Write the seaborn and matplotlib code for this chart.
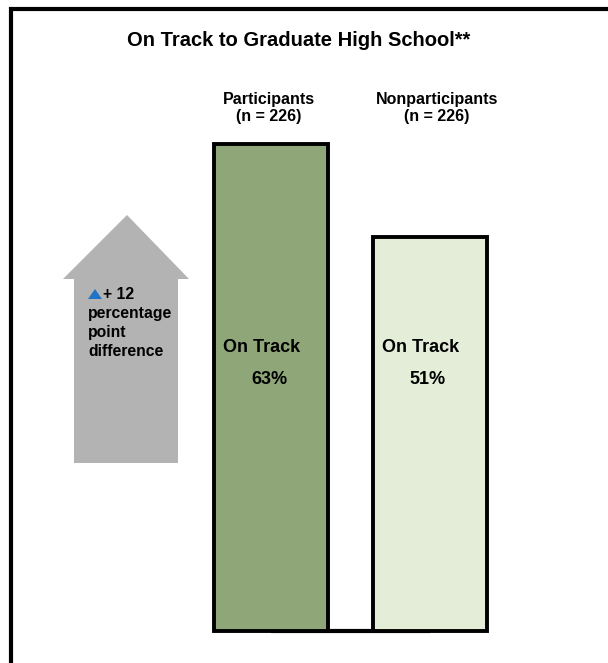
import numpy as np
import pandas as pd
import matplotlib
matplotlib.use("Agg")
import matplotlib.pyplot as plt
import seaborn as sns
from matplotlib.patches import Polygon
from matplotlib.lines import Line2D

# ---- data ----
groups = ["Participants", "Nonparticipants"]
group_labels = ["Participants\n(n = 226)", "Nonparticipants\n(n = 226)"]
values = [63, 51]
bar_colors = ["#8fad71", "#e3f0d5"]
title = "On Track to Graduate High School**"
inner_label = "On Track"
diff_lines = ["+ 12", "percentage", "point", "difference"]

sns.set_style("white")
plt.rcParams["font.family"] = ["Liberation Sans", "DejaVu Sans"]

W, H = 608, 663
fig = plt.figure(figsize=(W / 100, H / 100), dpi=100)
fig.patch.set_facecolor("white")

def fx(px):
    return px / W

def fy(py):
    return 1 - py / H

ax = fig.add_axes([0, 0, 1, 1])
df = pd.DataFrame({"group": groups, "value": values})

# baseline joining the bars
ax.plot([0, 1], [0, 0], color="black", lw=3, zorder=0, solid_capstyle="butt")

sns.barplot(data=df, x="group", y="value", hue="group", palette=bar_colors,
            width=0.72, edgecolor="black", linewidth=2.8, legend=False,
            ax=ax, zorder=2)

# pixel -> data mapping
s = 487 / 63.0
ax.set_xlim(-271 / 159, (W - 271) / 159)
ax.set_ylim(-(H - 631) / s, 631 / s)
ax.axis("off")

# labels inside bars
for i, v in enumerate(values):
    ax.text(i - 9 / 159, (631 - 351.5) / s, inner_label, ha="center",
            va="baseline", fontsize=13, fontweight="bold", color="black", zorder=3)
    ax.text(i - 2 / 159, (631 - 384) / s, f"{v}%", ha="center",
            va="baseline", fontsize=13, fontweight="bold", color="black", zorder=3)

# group labels above
label_x = [268.5, 437]
for lx, lab in zip(label_x, group_labels):
    l1, l2 = lab.split("\n")
    fig.text(fx(lx), fy(104), l1, ha="center", va="baseline", fontsize=11.5,
             fontweight="bold", color="black")
    fig.text(fx(lx), fy(120.5), l2, ha="center", va="baseline", fontsize=11.5,
             fontweight="bold", color="black")

# title
fig.text(fx(299), fy(46.5), title, ha="center", va="baseline", fontsize=14.5,
         fontweight="bold", color="black")

# grey arrow
arrow_px = [(127, 215), (189, 279), (178, 279), (178, 463),
            (74, 463), (74, 279), (63, 279)]
fig.patches.append(Polygon([(fx(x), fy(y)) for x, y in arrow_px], closed=True,
                           transform=fig.transFigure, facecolor="#b3b3b3",
                           edgecolor="none", zorder=1))

# blue triangle
tri_px = [(88, 299), (102, 299), (95, 289)]
fig.patches.append(Polygon([(fx(x), fy(y)) for x, y in tri_px], closed=True,
                           transform=fig.transFigure, facecolor="#1f74c4",
                           edgecolor="none", zorder=3))

baselines = [299, 318, 337, 356]
xs = [103, 88, 88, 88]
for t, bx, by in zip(diff_lines, xs, baselines):
    fig.text(fx(bx), fy(by), t, ha="left", va="baseline", fontsize=11.3,
             fontweight="bold", color="black", zorder=4)

# frame lines (top and left)
fig.lines.append(Line2D([fx(9), fx(608)], [fy(9), fy(9)], transform=fig.transFigure,
                        color="black", lw=3, solid_capstyle="butt"))
fig.lines.append(Line2D([fx(11), fx(11)], [fy(7), fy(663)], transform=fig.transFigure,
                        color="black", lw=3, solid_capstyle="butt"))

fig.savefig("out.png", dpi=100, facecolor="white")
